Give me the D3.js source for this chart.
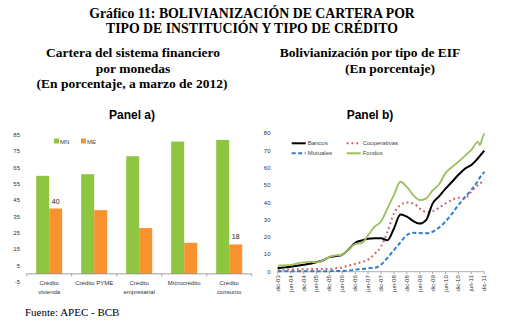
<!DOCTYPE html>
<html><head><meta charset="utf-8">
<script src="https://cdn.jsdelivr.net/npm/d3@7"></script>
<style>
body{margin:0;background:#fff;}
svg{display:block;}
</style></head>
<body>
<svg id="c" width="506" height="327"></svg>
<script>
// ---------- Panel a) data ----------
const categories = [["Crédito","vivienda"],["Crédito PYME"],["Crédito","empresarial"],["Microcrédito"],["Crédito","consumo"]];
const seriesMN = [60, 61, 72, 81, 82];
const seriesME = [40, 39, 28, 19, 18];
const leftTicks = [-5, 5, 15, 25, 35, 45, 55, 65, 75, 85];

// ---------- Panel b) data ----------
const dates = ["2003-12","2004-03","2004-06","2004-09","2004-12","2005-03","2005-06","2005-09","2005-12",
  "2006-03","2006-06","2006-09","2006-12","2007-03","2007-06","2007-09","2007-12",
  "2008-03","2008-06","2008-09","2008-12","2009-03","2009-06","2009-09","2009-12",
  "2010-03","2010-06","2010-09","2010-12","2011-03","2011-06","2011-09","2011-10","2011-11","2011-12"];
const bancos = [2.1,2.5,2.9,3.4,4.0,4.6,5.5,6.5,8.4,9.0,9.8,13,16.7,18,19,19.3,19.3,18.2,25,33,31.8,29.3,27.8,30,39.5,43.5,48,52,56,59.5,61.7,65.5,67,68.5,70];
const cooperativas = [1.2,1.2,1.3,1.3,1.4,1.5,1.6,1.6,1.6,2,2.5,3.5,4.5,5.5,7,10.3,14.5,23,33.7,38.5,40,39.5,36.5,34.5,35,37,39.5,41.5,42.8,42.4,46.3,50,51,52,53];
const mutuales = [0.3,0.3,0.3,0.3,0.3,0.3,0.3,0.3,0.3,0.4,0.4,0.6,1.2,1.5,2,2.3,4,8,12.5,17,21.2,22.5,22.3,22.2,23.1,25.5,29,33.5,38.6,43,47.2,52.5,54.5,56,57.8];
const fondos = [3.5,3.7,3.9,4.8,5.4,5.8,5.4,6.5,8.6,9.5,9.8,13,16,16.5,21,26,29,36.6,44.3,52,49,44.3,41.4,42.4,47,50.5,57,60.5,63.6,67,70.4,75,73.2,77,80];
const rightTicks = [0,10,20,30,40,50,60,70,80];
const xTickLabels = ["dic-03","jun-04","dic-04","jun-05","dic-05","jun-06","dic-06","jun-07","dic-07","jun-08","dic-08","jun-09","dic-09","jun-10","dic-10","jun-11","dic-11"];

const svg = d3.select("#c");
const serif = "'Liberation Serif','Times New Roman',serif";
const sans = "'Liberation Sans',Arial,sans-serif";

// ---------- Titles ----------
function txt(x, y, s, size, weight, family, anchor){
  return svg.append("text").attr("x", x).attr("y", y).text(s)
    .attr("font-size", size).attr("font-weight", weight||"normal")
    .attr("font-family", family||serif).attr("text-anchor", anchor||"middle").attr("fill","#000");
}
txt(252, 18, "Gráfico 11: BOLIVIANIZACIÓN DE CARTERA POR", 13.8, "bold");
txt(252, 33, "TIPO DE INSTITUCIÓN Y TIPO DE CRÉDITO", 13.8, "bold");
txt(133, 57, "Cartera del sistema financiero", 13.5, "bold");
txt(133, 73, "por monedas", 13.5, "bold");
txt(132, 88, "(En porcentaje, a marzo de 2012)", 13.5, "bold");
txt(370, 57, "Bolivianización por tipo de EIF", 13.5, "bold");
txt(390, 73, "(En porcentaje)", 13.5, "bold");
txt(132, 119, "Panel a)", 12, "bold", sans);
txt(370, 119, "Panel b)", 12, "bold", sans);
txt(25, 316, "Fuente: APEC - BCB", 11, "normal", serif, "start");

// ---------- Panel a) ----------
const gA = svg.append("g");
const yA = d3.scaleLinear().domain([-5, 85]).range([282, 135]);
const xA = d3.scaleBand().domain(d3.range(categories.length)).range([26.7, 251.7]).paddingInner(0).paddingOuter(0);
const barW = 13;
const sub = d3.scaleBand().domain(["MN","ME"]).range([0, barW*2]);
const colMN = "#8fc641", colME = "#f7922e";

gA.selectAll(".yl").data(leftTicks).enter().append("text")
  .attr("x", 20).attr("y", d => yA(d) + 2).attr("text-anchor","end")
  .attr("font-size", 6).attr("font-family", sans).attr("fill","#333").text(d => d);

categories.forEach((c, i) => {
  const x0 = xA(i) + xA.bandwidth()/2 - barW;
  gA.append("rect").attr("x", x0 + sub("MN")).attr("width", barW)
    .attr("y", yA(seriesMN[i])).attr("height", yA(0) - yA(seriesMN[i])).attr("fill", colMN);
  gA.append("rect").attr("x", x0 + sub("ME")).attr("width", barW)
    .attr("y", yA(seriesME[i])).attr("height", yA(0) - yA(seriesME[i])).attr("fill", colME);
});

gA.append("line").attr("x1", 26.7).attr("x2", 251.7).attr("y1", yA(0)).attr("y2", yA(0))
  .attr("stroke", "#888").attr("stroke-width", 0.8);
d3.range(categories.length + 1).forEach(i => {
  const x = 26.7 + i * xA.bandwidth();
  gA.append("line").attr("x1", x).attr("x2", x).attr("y1", yA(0)).attr("y2", yA(0) + 2.5)
    .attr("stroke", "#888").attr("stroke-width", 0.8);
});
categories.forEach((c, i) => {
  c.forEach((line, j) => {
    gA.append("text").attr("x", xA(i) + xA.bandwidth()/2).attr("y", 285 + j*9)
      .attr("text-anchor","middle").attr("font-size", 6).attr("font-family", sans)
      .attr("fill","#333").text(line);
  });
});

gA.append("text").attr("x", xA(0) + xA.bandwidth()/2 + barW/2).attr("y", yA(seriesME[0]) - 5)
  .attr("text-anchor","middle").attr("font-size", 7).attr("font-family", sans).attr("fill","#222").text(seriesME[0]);
gA.append("text").attr("x", xA(4) + xA.bandwidth()/2 + barW/2).attr("y", yA(seriesME[4]) - 5)
  .attr("text-anchor","middle").attr("font-size", 7).attr("font-family", sans).attr("fill","#222").text(seriesME[4]);

[["MN", colMN, 54], ["ME", colME, 81]].forEach(([n, c, x]) => {
  gA.append("rect").attr("x", x).attr("y", 138.5).attr("width", 5).attr("height", 5).attr("fill", c);
  gA.append("text").attr("x", x + 6).attr("y", 143.5).attr("font-size", 6).attr("font-family", sans)
    .attr("fill","#444").text(n);
});

// ---------- Panel b) ----------
const gB = svg.append("g");
const parse = d3.timeParse("%Y-%m");
const tickDates = xTickLabels.map(l => new Date(2000 + +l.slice(4), l.startsWith("dic") ? 11 : 5, 1));
const xB = d3.scaleTime().domain([tickDates[0], tickDates[tickDates.length-1]]).range([277.7, 484.3]);
const yB = d3.scaleLinear().domain([0, 80]).range([271.7, 133.3]);

gB.selectAll(".yl").data(rightTicks).enter().append("text")
  .attr("x", 270.5).attr("y", d => yB(d) + 2).attr("text-anchor","end")
  .attr("font-size", 6).attr("font-family", sans).attr("fill","#333").text(d => d);

gB.append("line").attr("x1", 277.7).attr("x2", 484.3).attr("y1", yB(0)).attr("y2", yB(0))
  .attr("stroke", "#999").attr("stroke-width", 0.8);
tickDates.forEach((d, i) => {
  const x = xB(d);
  gB.append("line").attr("x1", x).attr("x2", x).attr("y1", yB(0)).attr("y2", yB(0) + 2.5)
    .attr("stroke", "#999").attr("stroke-width", 0.8);
  gB.append("text").attr("transform", `translate(${x + 2},${yB(0) + 3.5}) rotate(-90)`)
    .attr("text-anchor","end").attr("font-size", 6).attr("font-family", sans).attr("fill","#333")
    .text(xTickLabels[i]);
});

const pts = dates.map(parse);
const line = d3.line().x((d, i) => xB(pts[i])).y(d => yB(d)).curve(d3.curveMonotoneX);
const lines = [
  {name:"Mutuales", data: mutuales, color:"#2b7fd0", dash:"4,2.5", w:2},
  {name:"Cooperativas", data: cooperativas, color:"#cf5b5b", dash:"1.8,3", w:2},
  {name:"Bancos", data: bancos, color:"#000", dash:null, w:2},
  {name:"Fondos", data: fondos, color:"#9dbf5f", dash:null, w:1.8}
];
lines.forEach(s => {
  gB.append("path").datum(s.data).attr("d", line).attr("fill","none")
    .attr("stroke", s.color).attr("stroke-width", s.w)
    .attr("stroke-dasharray", s.dash);
});

const leg = [
  {name:"Bancos", x:291.7, y:143.3, color:"#000", dash:null},
  {name:"Mutuales", x:291.7, y:153.3, color:"#2b7fd0", dash:"4,2.5"},
  {name:"Cooperativas", x:346.7, y:143.3, color:"#cf5b5b", dash:"1.8,3"},
  {name:"Fondos", x:346.7, y:153.3, color:"#9dbf5f", dash:null}
];
leg.forEach(l => {
  gB.append("line").attr("x1", l.x).attr("x2", l.x + 14).attr("y1", l.y).attr("y2", l.y)
    .attr("stroke", l.color).attr("stroke-width", 2).attr("stroke-dasharray", l.dash);
  gB.append("text").attr("x", l.x + 16).attr("y", l.y + 2).attr("font-size", 6)
    .attr("font-family", sans).attr("fill","#444").text(l.name);
});
</script>
</body></html>
